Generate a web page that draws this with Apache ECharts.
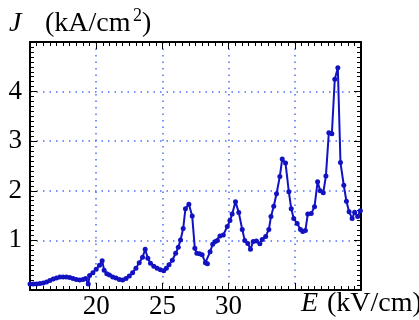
<!DOCTYPE html>
<html>
<head>
<meta charset="utf-8">
<script src="https://cdn.jsdelivr.net/npm/echarts@6/dist/echarts.min.js"></script>
<style>
  html, body { margin: 0; padding: 0; background: #fff; }
  #chart { width: 419px; height: 320px; }
</style>
</head>
<body>
<div id="chart"></div>
<script>
// field strength E (kV/cm) and current density J (kA/cm^2)
const fieldE = [
  15.0, 15.25, 15.5, 15.75, 16.0, 16.25, 16.5, 16.75, 17.0, 17.25, 17.5, 17.75,
  18.0, 18.25, 18.5, 18.75, 19.0, 19.2, 19.4, 19.5, 19.75, 20.0, 20.25, 20.45,
  20.6, 20.8, 21.0, 21.25, 21.5, 21.75, 22.0, 22.25, 22.5, 22.75, 23.0, 23.25,
  23.5, 23.7, 23.9, 24.1, 24.35, 24.6, 24.85, 25.1, 25.3, 25.5, 25.75, 26.0,
  26.2, 26.37, 26.57, 26.74, 27.0, 27.25, 27.45, 27.6, 27.8, 28.0, 28.25, 28.4,
  28.6, 28.8, 29.0, 29.15, 29.35, 29.6, 29.9, 30.1, 30.27, 30.52, 30.77, 31.03,
  31.22, 31.45, 31.65, 31.86, 32.1, 32.36, 32.54, 32.8, 33.04, 33.2, 33.41, 33.62,
  33.87, 34.05, 34.3, 34.55, 34.73, 34.92, 35.18, 35.43, 35.6, 35.8, 35.98, 36.24,
  36.49, 36.72, 36.92, 37.15, 37.35, 37.57, 37.8, 38.02, 38.25, 38.45, 38.7, 38.9,
  39.1, 39.33, 39.52, 39.75, 39.95
];
const currentJ = [
  0.12, 0.12, 0.12, 0.13, 0.14, 0.16, 0.19, 0.22, 0.24, 0.26, 0.26, 0.26,
  0.25, 0.23, 0.21, 0.20, 0.21, 0.23, 0.12, 0.29, 0.35, 0.42, 0.50, 0.59,
  0.40, 0.33, 0.30, 0.26, 0.24, 0.21, 0.20, 0.23, 0.28, 0.35, 0.44, 0.55,
  0.66, 0.82, 0.64, 0.54, 0.48, 0.44, 0.41, 0.39, 0.44, 0.51, 0.60, 0.74,
  0.86, 1.01, 1.24, 1.64, 1.73, 1.49, 0.84, 0.74, 0.73, 0.71, 0.55, 0.53,
  0.77, 0.92, 0.98, 1.00, 1.09, 1.11, 1.28, 1.40, 1.53, 1.78, 1.56, 1.22,
  1.00, 0.94, 0.82, 0.98, 0.99, 0.93, 1.02, 1.08, 1.22, 1.48, 1.69, 1.94,
  2.29, 2.64, 2.56, 1.98, 1.64, 1.44, 1.34, 1.22, 1.18, 1.20, 1.53, 1.54,
  1.68, 2.18, 2.00, 1.96, 2.30, 3.17, 3.15, 4.25, 4.48, 2.57, 2.11, 1.79,
  1.58, 1.44, 1.57, 1.48, 1.60
];
const xTickLabels = [20, 25, 30];
const yTickLabels = [1, 2, 3, 4];

const SERIF = 'Liberation Serif';
const LINE = '#1212c2';
const GRID_DOT = '#4f6ff5';

const chart = echarts.init(document.getElementById('chart'), null, { renderer: 'canvas' });

const frameAxis = {
  axisLine: { show: true, onZero: false, lineStyle: { color: '#000', width: 2 } },
  axisTick: { show: true, inside: true, length: 7, lineStyle: { color: '#000', width: 1 } },
  minorTick: { show: true, splitNumber: 10, length: 4, lineStyle: { color: '#000', width: 1 } },
  splitLine: { show: false },
};

const option = {
  animation: false,
  backgroundColor: '#fff',
  grid: { left: 30, right: 58, top: 42, bottom: 30 },
  xAxis: [
    {
      ...frameAxis,
      type: 'value',
      position: 'bottom',
      min: 15,
      max: 40,
      interval: 5,
      axisLabel: {
        margin: 3,
        color: '#000',
        fontFamily: SERIF,
        fontSize: 27,
        formatter: v => (xTickLabels.includes(v) ? String(v) : ''),
      },
      splitLine: {
        show: true,
        lineStyle: { color: GRID_DOT, width: 1.5, type: [1.5, 5] },
      },
    },
    {
      ...frameAxis,
      type: 'value',
      position: 'top',
      min: 15,
      max: 40,
      interval: 5,
      axisLabel: { show: false },
    },
  ],
  yAxis: [
    {
      ...frameAxis,
      type: 'value',
      position: 'left',
      min: 0,
      max: 5,
      interval: 1,
      axisLabel: {
        margin: 8,
        color: '#000',
        fontFamily: SERIF,
        fontSize: 27,
        formatter: v => (yTickLabels.includes(v) ? String(v) : ''),
      },
      splitLine: {
        show: true,
        lineStyle: { color: GRID_DOT, width: 1.5, type: [1.5, 5] },
      },
    },
    {
      ...frameAxis,
      type: 'value',
      position: 'right',
      min: 0,
      max: 5,
      interval: 1,
      axisLabel: { show: false },
    },
  ],
  series: [
    {
      type: 'line',
      data: fieldE.map((e, i) => [e, currentJ[i]]),
      xAxisIndex: 0,
      yAxisIndex: 0,
      symbol: 'circle',
      symbolSize: 5,
      showAllSymbol: true,
      lineStyle: { color: LINE, width: 2 },
      itemStyle: { color: LINE },
      z: 5,
    },
  ],
  graphic: [
    { type: 'text', left: 9, top: 10, style: { text: 'J', font: `italic 28px "${SERIF}"`, fill: '#000' } },
    { type: 'text', left: 45, top: 10, style: { text: '(kA/cm', font: `28px "${SERIF}"`, fill: '#000' } },
    { type: 'text', left: 133, top: 7, style: { text: '2', font: `18px "${SERIF}"`, fill: '#000' } },
    { type: 'text', left: 142, top: 10, style: { text: ')', font: `28px "${SERIF}"`, fill: '#000' } },
    { type: 'text', left: 301, top: 290, style: { text: 'E', font: `italic 28px "${SERIF}"`, fill: '#000' } },
    { type: 'text', left: 327, top: 290, style: { text: '(kV/cm)', font: `28px "${SERIF}"`, fill: '#000' } },
  ],
};

chart.setOption(option);
</script>
</body>
</html>
